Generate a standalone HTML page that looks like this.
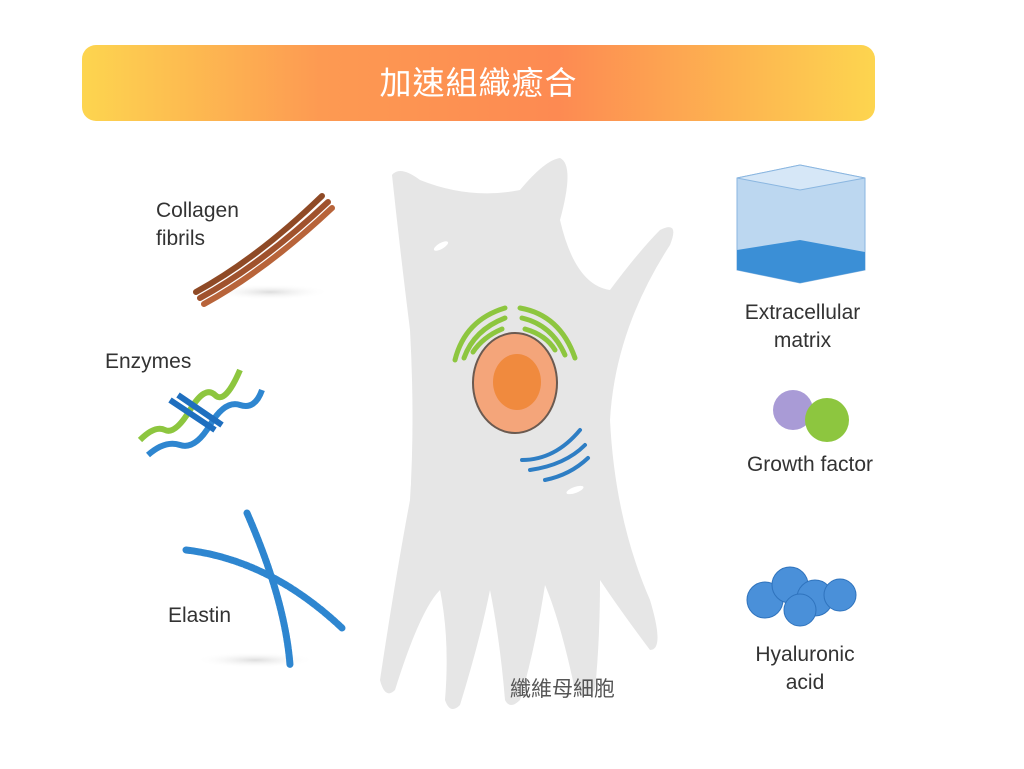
<!DOCTYPE html>
<html><head><meta charset="utf-8"><style>
body{margin:0;width:1024px;height:769px;background:#fff;overflow:hidden;position:relative;font-family:"Liberation Sans","Noto Sans CJK TC",sans-serif}
.banner{position:absolute;left:82px;top:45px;width:793px;height:76px;border-radius:14px;background:linear-gradient(90deg,#fdd54f 0%,#fd9a52 30%,#fd8a52 60%,#fdd54f 100%);color:#fff;font-size:32px;text-align:center;line-height:76px;letter-spacing:1px}
.l{position:absolute;font-size:21px;color:#333;line-height:28px;text-align:center}
</style></head><body>
<div class="banner">加速組織癒合</div>
<svg width="1024" height="769" style="position:absolute;left:0;top:0">
<defs><radialGradient id="sh"><stop offset="0" stop-color="#ddd"/><stop offset="1" stop-color="#fff" stop-opacity="0"/></radialGradient></defs>
<path d="M392,175 Q400,165 420,180 Q470,200 520,190 Q545,160 560,158 Q575,165 560,220 Q575,285 610,290 Q640,250 660,230 Q680,220 670,245 Q615,330 610,420 Q615,520 650,600 Q665,650 650,650 Q620,610 600,580 Q600,640 595,690 Q585,700 575,690 Q560,620 545,585 Q535,650 520,700 Q510,710 505,700 Q500,640 490,590 Q480,640 460,705 Q450,715 445,700 Q450,640 440,590 Q420,610 395,690 Q385,700 380,680 Q395,580 410,500 Q415,420 410,330 Q400,250 392,175Z" fill="#e6e6e6"/>
<ellipse cx="441" cy="246" rx="8" ry="3" fill="#fff" transform="rotate(-30 441 246)"/>
<ellipse cx="408" cy="482" rx="3" ry="9" fill="#fff"/>
<ellipse cx="575" cy="490" rx="9" ry="3" fill="#fff" transform="rotate(-20 575 490)"/>
<g fill="none" stroke="#8dc63f" stroke-width="5" stroke-linecap="round">
<path d="M455,360 Q465,320 505,308"/><path d="M464,358 Q474,330 505,318"/><path d="M473,352 Q483,337 502,329"/>
<path d="M520,308 Q560,315 575,358"/><path d="M522,318 Q552,325 565,355"/><path d="M525,329 Q546,335 555,350"/>
</g>
<ellipse cx="515" cy="383" rx="42" ry="50" fill="#f4a57a" stroke="#6b5a50" stroke-width="2"/>
<ellipse cx="517" cy="382" rx="24" ry="28" fill="#f08a3e"/>
<g fill="none" stroke="#2e7ec4" stroke-width="4" stroke-linecap="round">
<path d="M522,460 Q555,460 580,430"/><path d="M530,470 Q565,465 585,445"/><path d="M545,480 Q570,475 588,458"/>
</g>
<ellipse cx="270" cy="292" rx="60" ry="8" fill="url(#sh)"/>
<g stroke-linecap="round" fill="none">
<path d="M196,292 Q258,258 322,196" stroke="#8f4a26" stroke-width="6"/>
<path d="M200,298 Q262,264 328,202" stroke="#a0522d" stroke-width="6"/>
<path d="M204,304 Q266,270 332,208" stroke="#b8643a" stroke-width="6"/>
</g>
<path d="M140,440 Q155,425 165,430 T190,410 T215,395 T240,370" stroke="#8dc63f" stroke-width="6" fill="none"/>
<path d="M148,455 Q165,440 180,445 T210,425 T240,405 T262,390" stroke="#2e86d0" stroke-width="6" fill="none"/>
<path d="M170,400 L215,430 M178,395 L222,425" stroke="#1f6fbf" stroke-width="6"/>
<ellipse cx="255" cy="660" rx="60" ry="8" fill="url(#sh)"/>
<g stroke="#2e86d0" stroke-width="7" stroke-dasharray="4 1.5" fill="none" stroke-linecap="round">
<path d="M186,550 Q270,560 342,628"/><path d="M247,513 Q285,600 290,665"/>
</g>
<path d="M737,178 L800,165 L865,178 L865,270 L800,283 L737,270Z" fill="#bcd7f0" stroke="#8ab6e0"/>
<path d="M737,178 L800,165 L865,178 L800,190Z" fill="#d6e7f7" stroke="#8ab6e0"/>
<path d="M737,250 L800,240 L865,252 L865,270 L800,283 L737,270Z" fill="#3b8fd6"/>
<circle cx="793" cy="410" r="20" fill="#a99bd6"/>
<circle cx="827" cy="420" r="22" fill="#8dc63f"/>
<g fill="#4a90d9" stroke="#2f73bd">
<circle cx="765" cy="600" r="18"/><circle cx="790" cy="585" r="18"/><circle cx="815" cy="598" r="18"/><circle cx="840" cy="595" r="16"/><circle cx="800" cy="610" r="16"/>
</g>
</svg>
<div class="l" style="left:156px;top:197px;text-align:left">Collagen<br>fibrils</div>
<div class="l" style="left:105px;top:348px">Enzymes</div>
<div class="l" style="left:168px;top:602px">Elastin</div>
<div class="l" style="left:725px;top:299px;width:155px">Extracellular<br>matrix</div>
<div class="l" style="left:725px;top:451px;width:170px">Growth factor</div>
<div class="l" style="left:735px;top:641px;width:140px">Hyaluronic<br>acid</div>
<div style="position:absolute;left:510px;top:673px;font-size:21px;color:#555">纖維母細胞</div>
</body></html>
